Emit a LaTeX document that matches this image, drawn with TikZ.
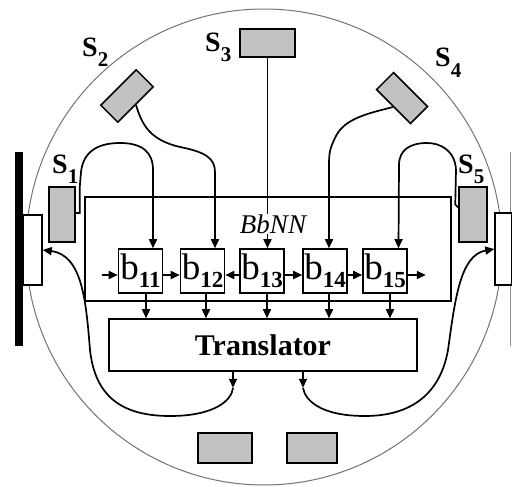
\documentclass[tikz,border=0pt]{standalone}
\usepackage{fontspec}
\setmainfont{Liberation Serif}
\usetikzlibrary{arrows.meta}
\begin{document}
\begin{tikzpicture}[x=1pt,y=-1pt,
  wire/.style={line width=1.7pt},
  arr/.style={line width=1.7pt,-{Triangle[length=9pt,width=8pt]}},
  sensor/.style={draw,line width=1.5pt,fill=black!24,inner sep=0pt},
  wheel/.style={draw,line width=1.5pt,fill=white,inner sep=0pt},
  bbox/.style={draw,line width=1.6pt,fill=white,inner sep=0pt,minimum width=44pt,minimum height=44pt,
    font=\fontsize{37}{39}\selectfont},
  slabel/.style={anchor=base west,inner sep=0pt,font=\fontsize{28}{30}\selectfont\bfseries}
]
\useasboundingbox (0,0) rectangle (512,487);
\newcommand{\bsub}[1]{\raisebox{-8pt}{\fontsize{23}{25}\selectfont\bfseries #1}}
\newcommand{\ssub}[1]{\raisebox{-10pt}{\fontsize{21}{23}\selectfont\bfseries #1}}

% body outline
\draw[black!55,line width=1pt] (264,247) circle [radius=238];

% wheels
\fill (15,152) rectangle (23,346);
\node[wheel,minimum width=19pt,minimum height=70pt] (lw) at (32.5,250) {};
\draw[black!45,line width=1pt] (510.5,152) -- (510.5,346);
\node[wheel,minimum width=17pt,minimum height=72pt] (rw) at (503.5,249) {};

% sensors
\node[sensor,minimum width=26pt,minimum height=55pt] (s1) at (62,214.5) {};
\node[sensor,minimum width=50pt,minimum height=24pt,rotate=45] (s2) at (127,96) {};
\node[sensor,minimum width=55pt,minimum height=28pt] (s3) at (267.5,43) {};
\node[sensor,minimum width=48pt,minimum height=24pt,rotate=-45] (s4) at (402,98) {};
\node[sensor,minimum width=28pt,minimum height=55pt] (s5) at (473,214.5) {};
\node[sensor,minimum width=54pt,minimum height=30pt] (s6) at (225,448) {};
\node[sensor,minimum width=50pt,minimum height=30pt] (s7) at (312,448) {};

% sensor labels
\node[slabel] (l1) at (52,173) {S\ssub{1}};
\node[slabel] (l2) at (82,57) {S\ssub{2}};
\node[slabel] (l3) at (205,52) {S\ssub{3}};
\node[slabel] (l4) at (435,67) {S\ssub{4}};
\node[slabel] (l5) at (458,173) {S\ssub{5}};

% BbNN block
\node[draw,line width=1.6pt,minimum width=366pt,minimum height=104pt,inner sep=0pt] (bbnn) at (268,249) {};
\node[bbox] (b11) at (140.5,271) {b\bsub{11}};
\node[bbox] (b12) at (202.5,271) {b\bsub{12}};
\node[bbox] (b13) at (262,271) {b\bsub{13}};
\node[bbox] (b14) at (325,271) {b\bsub{14}};
\node[bbox] (b15) at (385,271) {b\bsub{15}};

% translator
\node[draw,line width=1.6pt,minimum width=308pt,minimum height=52pt,inner sep=0pt,
  font=\fontsize{30}{32}\selectfont\bfseries] (tr) at (263,345) {Translator};

% sensor inputs
\draw[arr] ([yshift=1.5pt]s1.east) -- ++(4,0) -- ++(0,-26) -- ++(1,-12)
  .. controls (82,150) and (100,143) .. (120,143)
  .. controls (142,143) and (153,152) .. (153,170) -- ([xshift=12.5pt]b11.north);
\draw[arr] (s2.south) .. controls (142,125) and (150,140) .. (180,147)
  .. controls (205,152) and (215,158) .. (215,172) -- ([xshift=12.5pt]b12.north);
\draw[arr] (s3.south) -- (s3.south |- b13.north);
\draw[arr] (s4.south) .. controls (370,113) and (345,118) .. (336,136)
  .. controls (330,148) and (329,152) .. (329,165) -- ([xshift=4pt]b14.north);
\draw[arr] ([yshift=7pt]s5.west) -- ++(-3,-3) -- (456,170)
  .. controls (455,150) and (440,143) .. (427,143)
  .. controls (410,143) and (399,150) .. (399,165) -- ([xshift=13.5pt]b15.north);

\node[fill=white,inner sep=1pt,font=\fontsize{27}{29}\selectfont\itshape] (lbl) at (273,224) {BbNN};

% horizontal links
\draw[arr] ([yshift=-4pt,xshift=-16pt]b11.west) -- ([yshift=-4pt]b11.west);
\draw[arr] ([yshift=-4pt]b11.east) -- ([yshift=-4pt]b12.west);
\draw[arr] ([yshift=-4pt]b13.west) -- ([yshift=-4pt]b12.east);
\draw[arr] ([yshift=-4pt]b13.east) -- ([yshift=-4pt]b14.west);
\draw[arr] ([yshift=-4pt]b14.east) -- ([yshift=-4pt]b15.west);
\draw[arr] ([yshift=-4pt]b15.east) -- ([yshift=-4pt,xshift=18pt]b15.east);

% to translator
\draw[arr] ([xshift=5.5pt]b11.south) -- ([xshift=5.5pt]b11.south |- tr.north);
\draw[arr] ([xshift=3.5pt]b12.south) -- ([xshift=3.5pt]b12.south |- tr.north);
\draw[arr] ([xshift=5pt]b13.south) -- ([xshift=5pt]b13.south |- tr.north);
\draw[arr] ([xshift=4pt]b14.south) -- ([xshift=4pt]b14.south |- tr.north);
\draw[arr] ([xshift=5pt]b15.south) -- ([xshift=5pt]b15.south |- tr.north);

% translator to wheels
\coordinate (ta) at ([xshift=-30pt,yshift=-16pt]tr.south);
\coordinate (tb) at ([xshift=40pt,yshift=-16pt]tr.south);
\draw[arr] ([xshift=-30pt]tr.south) -- (ta);
\draw[arr] ([xshift=40pt]tr.south) -- (tb);
\draw[arr] (ta) .. controls (232,400) and (215,416) .. (170,416)
  .. controls (120,416) and (95,395) .. (90,350)
  .. controls (86,300) and (82,255) .. (lw.east);
\draw[arr] (tb) .. controls (305,400) and (320,416) .. (365,416)
  .. controls (410,416) and (440,395) .. (448,350)
  .. controls (455,300) and (460,255) .. (rw.west);
\end{tikzpicture}
\end{document}
